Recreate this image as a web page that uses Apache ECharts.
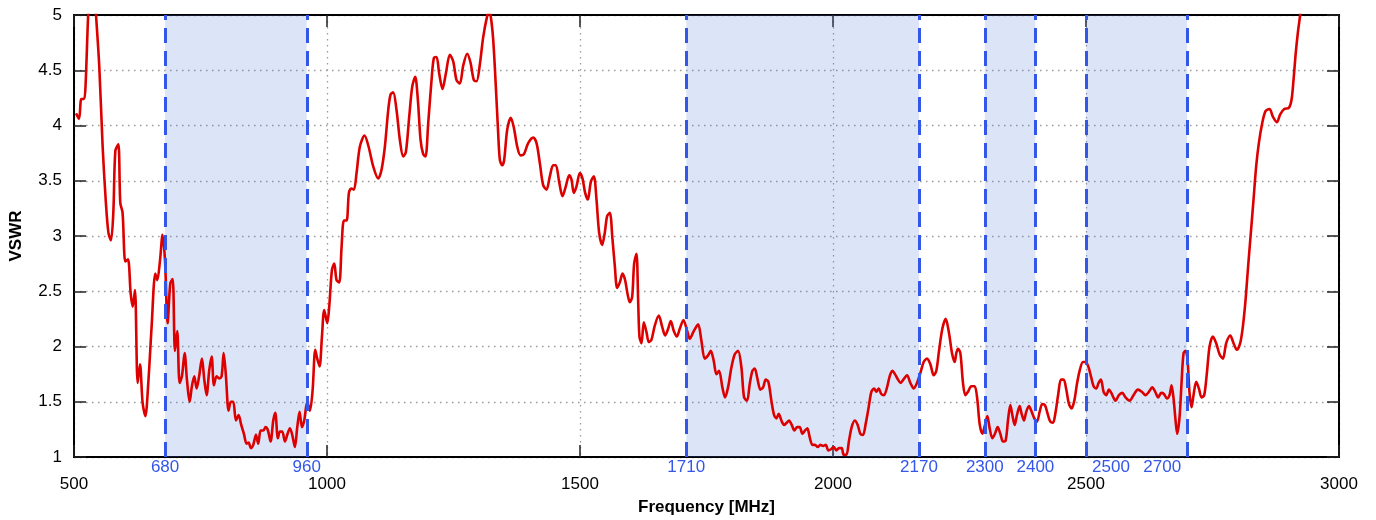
<!DOCTYPE html>
<html>
<head>
<meta charset="utf-8">
<script src="https://cdn.jsdelivr.net/npm/echarts@6.0.0/dist/echarts.min.js"></script>
<style>
html,body{margin:0;padding:0;background:#fff;}
#chart{width:1376px;height:520px;}
</style>
</head>
<body>
<div id="chart"></div>
<script>
// ---- data ----
const freqMHz = [
504,510,514.5,520,523,528,533,538,543.5,550,556.6,562.6,568,573,577.7,581.7,587.6,591.5,596,601.4,
606.7,612,616,620.5,625.8,630.4,635.6,641,646.8,653.4,660.7,664.6,670,675,679.8,685,690.3,695,699.5,704,
708.7,713.3,718.6,723.2,728.5,733,737.7,742.3,747.6,752.8,757.5,762,767.4,772,776.6,781.8,787,791.7,795.7,800.3,
805.5,810,814.7,820,825.3,830.5,835.8,841,845,849.7,854.3,859.6,864.1,868.8,874,878.6,883.3,888.5,893.8,897.7,
903,907,911.6,916.8,922.1,926.7,931.3,936.6,941.2,945.8,950.4,955,961,966.2,971.5,976.8,980.7,985.3,990,994.5,
1000.5,1004.4,1009.7,1014.3,1018.9,1024.2,1028.8,1033.4,1038.7,1043.3,1047.9,1053.1,1058.4,1065,1074.2,1082.1,1091.3,1101.2,1107.8,1114.4,
1121,1125.6,1130.8,1137.4,1144,1150.6,1155.9,1162.5,1168.4,1174.3,1179.6,1184.9,1190.1,1194.7,1200,1206.6,1211.2,1216.5,1221.7,1228.3,
1234.9,1242.8,1249.4,1256,1262.5,1269.1,1277,1283.6,1290.2,1295.5,1302,1308.7,1316.5,1320,1323.2,1328.4,1333.7,1338.3,1341.6,1346.2,
1350.2,1356.1,1363.3,1369.3,1375.9,1382.4,1389,1397.6,1407.5,1414.1,1420.6,1427.2,1433.8,1440.4,1447,1452.2,1458.8,1465.4,1472,1478.6,
1483.2,1487.8,1493.1,1499.7,1505,1510.2,1515.5,1521.4,1527.3,1532.6,1537.8,1543.8,1549,1553.6,1558.9,1564.2,1568.8,1573.4,1578.7,1584,
1589.2,1593.8,1598.4,1603.1,1607,1611.6,1614.9,1617.5,1621.5,1626.1,1631.4,1636,1641.2,1647.8,1655.7,1662.3,1668.2,1674.2,1679.4,1685.4,
1691.3,1697.2,1704.4,1711.7,1717,1724.8,1733.4,1740,1746.5,1753.1,1758.4,1764.3,1769.6,1774.8,1781.4,1786.7,1792.6,1799.2,1805.8,1812.4,
1819,1824.2,1830.2,1835.4,1840.7,1845.3,1850.6,1856.5,1861.8,1867,1872.3,1878.2,1883.5,1888.1,1892.7,1898,1903.3,1908.5,1913.1,1918.4,
1923.7,1928.9,1934.2,1939.5,1944.7,1949.3,1953.9,1959.2,1964.5,1969.8,1975,1980.3,1985.6,1990.8,1996.1,2001.4,2006.6,2011.9,2017.2,2021.1,
2026.4,2031.7,2036.9,2042.9,2048.8,2054,2059.3,2064.6,2070.5,2075.8,2081.1,2085.7,2090.3,2095.5,2100.8,2106.8,2112,2117.3,2122.5,2128.5,
2133.7,2139,2146.3,2152.9,2159.5,2166,2172.6,2179.2,2185.8,2192.4,2199,2204.2,2209.5,2216.1,2222.7,2229.3,2235.2,2240.5,2243.7,2247,
2251.7,2256.9,2261.5,2266.8,2273.4,2280,2285.2,2289.8,2295.1,2300.4,2305,2309.6,2314.9,2320.1,2325.4,2330.7,2336,2341.2,2345.8,2350.4,
2354.4,2359,2363.6,2368.9,2372.8,2377.4,2382,2387.3,2392.6,2397.8,2403.1,2408.4,2413.6,2418.9,2424.2,2429.4,2434.7,2440,2445.2,2450.5,
2455.8,2461,2466.3,2471.6,2476.9,2482.1,2487.4,2494,2499.2,2504.5,2509.8,2515,2520.3,2524.9,2529.5,2534.8,2540,2545.3,2550,2558.5,
2565,2571.6,2578.2,2586.1,2594,2602.6,2610.5,2617.7,2624.3,2630.9,2636.8,2642.7,2648.7,2654,2659.9,2665.1,2669.1,2673,2677,2680.3,
2684.9,2688.8,2692.8,2696.7,2700.7,2704.6,2708.6,2712.5,2717.8,2723.1,2728.3,2733.6,2738.9,2744.2,2750.7,2757.3,2763.9,2770.5,2777.1,2785,
2791.6,2798.1,2804.7,2810,2815.3,2820.5,2825.8,2831.1,2836.3,2841.6,2848.2,2854.8,2862.7,2869.3,2877.2,2883.8,2891.7,2901,2906.1,2910.1,
2914,2918.7,2923.3,2930
];
const vswr = [
4.11,4.06,4.24,4.24,4.38,5.0,5.35,5.35,5.0,4.53,3.81,3.33,3.03,2.96,3.21,3.77,3.83,3.30,3.21,2.77,
2.79,2.48,2.36,2.51,1.67,1.84,1.49,1.37,1.67,2.18,2.66,2.60,2.78,3.01,2.78,2.21,2.57,2.61,1.96,2.14,
1.67,1.73,1.94,1.70,1.50,1.64,1.73,1.62,1.74,1.89,1.70,1.56,1.79,1.91,1.65,1.73,1.71,1.73,1.94,1.73,
1.42,1.50,1.50,1.33,1.38,1.29,1.21,1.12,1.13,1.08,1.11,1.20,1.12,1.24,1.24,1.27,1.24,1.14,1.33,1.40,
1.17,1.23,1.23,1.14,1.21,1.26,1.20,1.09,1.27,1.41,1.27,1.33,1.50,1.42,1.60,1.97,1.89,1.82,2.09,2.33,
2.21,2.36,2.69,2.75,2.60,2.58,2.90,3.14,3.14,3.39,3.43,3.42,3.57,3.81,3.91,3.81,3.63,3.52,3.60,3.81,
4.14,4.28,4.30,4.14,3.87,3.72,3.76,4.08,4.35,4.44,4.23,3.87,3.74,3.72,4.02,4.41,4.61,4.62,4.47,4.33,
4.47,4.64,4.58,4.41,4.38,4.54,4.65,4.57,4.41,4.40,4.55,4.80,4.99,5.03,5.0,4.78,4.35,3.93,3.69,3.64,
3.69,3.96,4.07,3.98,3.81,3.73,3.74,3.84,3.89,3.84,3.66,3.46,3.42,3.54,3.64,3.64,3.49,3.36,3.45,3.55,
3.51,3.39,3.45,3.57,3.52,3.39,3.33,3.49,3.54,3.33,3.03,2.92,3.03,3.18,3.21,2.97,2.73,2.53,2.58,2.66,
2.60,2.48,2.40,2.45,2.75,2.84,2.42,2.09,2.03,2.22,2.13,2.04,2.06,2.19,2.28,2.18,2.10,2.16,2.23,2.14,
2.09,2.16,2.24,2.14,2.07,2.14,2.20,2.05,1.89,1.92,1.96,1.87,1.75,1.78,1.63,1.54,1.63,1.81,1.93,1.96,
1.81,1.54,1.51,1.66,1.78,1.80,1.71,1.61,1.63,1.70,1.68,1.51,1.38,1.35,1.39,1.33,1.29,1.31,1.33,1.29,
1.24,1.27,1.27,1.21,1.24,1.26,1.18,1.11,1.11,1.09,1.11,1.10,1.11,1.06,1.07,1.09,1.06,1.08,1.08,1.02,
1.02,1.15,1.27,1.33,1.29,1.21,1.20,1.30,1.45,1.59,1.62,1.59,1.62,1.57,1.56,1.63,1.73,1.78,1.75,1.70,
1.67,1.70,1.74,1.67,1.62,1.67,1.76,1.86,1.89,1.84,1.74,1.78,1.96,2.16,2.25,2.12,1.94,1.86,1.94,1.98,
1.94,1.67,1.56,1.59,1.64,1.64,1.52,1.30,1.21,1.29,1.37,1.26,1.17,1.21,1.27,1.21,1.14,1.15,1.33,1.47,
1.38,1.29,1.38,1.46,1.39,1.33,1.41,1.46,1.41,1.35,1.32,1.41,1.48,1.47,1.39,1.32,1.31,1.41,1.57,1.70,
1.70,1.61,1.48,1.44,1.51,1.66,1.78,1.86,1.86,1.82,1.73,1.64,1.62,1.67,1.70,1.59,1.56,1.61,1.58,1.51,
1.56,1.58,1.54,1.51,1.56,1.61,1.59,1.56,1.59,1.63,1.59,1.54,1.58,1.57,1.53,1.56,1.65,1.53,1.33,1.21,
1.36,1.67,1.94,1.96,1.88,1.58,1.45,1.56,1.68,1.62,1.54,1.56,1.76,2.00,2.09,2.03,1.93,1.89,2.03,2.10,
2.03,1.97,2.03,2.18,2.42,2.73,3.03,3.33,3.63,3.84,4.02,4.13,4.15,4.08,4.03,4.10,4.15,4.16,4.23,4.41,
4.63,4.84,5.0,5.25
];
const bands = [[680, 960], [1710, 2170], [2300, 2400], [2500, 2700]];
const bandEdges = [680, 960, 1710, 2170, 2300, 2400, 2500, 2700];
const xMin = 500, xMax = 3000, xStep = 500;
const yMin = 1, yMax = 5, yStep = 0.5;

// ---- chart ----
const FONT = '"Liberation Sans", Arial, Helvetica, sans-serif';
const FS = 17;
const BLUE = '#3457ea';
const chart = echarts.init(document.getElementById('chart'), null, {renderer: 'canvas'});
const gridDots = {show: true, lineStyle: {color: '#9a9a9a', width: 1.3, type: [1.5, 4.5]}};
const tickIn = {show: true, inside: true, length: 12, lineStyle: {color: '#222', width: 1.5}};
const plain = v => String(v);
const option = {
  animation: false,
  backgroundColor: '#fff',
  textStyle: {fontFamily: FONT},
  grid: {left: 74, right: 37, top: 15, bottom: 63, containLabel: false, outerBoundsMode: 'none',
         show: true, borderColor: '#000', borderWidth: 2, backgroundColor: 'transparent'},
  xAxis: [
    {
      type: 'value', min: xMin, max: xMax, interval: xStep, position: 'bottom',
      axisLine: {show: true, lineStyle: {color: '#000', width: 2}},
      axisTick: tickIn,
      axisLabel: {color: '#000', fontSize: FS, margin: 19, fontFamily: FONT, formatter: plain},
      splitLine: gridDots,
      name: 'Frequency [MHz]', nameLocation: 'middle', nameGap: 42,
      nameTextStyle: {color: '#000', fontWeight: 'bold', fontSize: FS, fontFamily: FONT}
    },
    {
      type: 'value', min: xMin, max: xMax, position: 'bottom',
      axisLine: {show: false}, axisTick: {show: false}, splitLine: {show: false},
      axisLabel: {
        customValues: bandEdges, color: BLUE, fontSize: FS, margin: 2, fontFamily: FONT,
        formatter: function (v) {
          if (v === 2500) return '{r|' + v + '}';
          if (v === 2700) return '{l|' + v + '}';
          return String(v);
        },
        rich: {
          r: {color: BLUE, fontSize: FS, fontFamily: FONT, padding: [0, 0, 0, 50]},
          l: {color: BLUE, fontSize: FS, fontFamily: FONT, padding: [0, 50, 0, 0]}
        }
      }
    },
    {
      type: 'value', min: xMin, max: xMax, interval: xStep, position: 'top',
      axisLine: {show: true, lineStyle: {color: '#000', width: 2}},
      axisTick: tickIn, axisLabel: {show: false}, splitLine: {show: false}
    }
  ],
  yAxis: [
    {
      type: 'value', min: yMin, max: yMax, interval: yStep, position: 'left',
      axisLine: {show: true, lineStyle: {color: '#000', width: 2}},
      axisTick: tickIn,
      axisLabel: {color: '#000', fontSize: FS, margin: 12, fontFamily: FONT, formatter: plain},
      splitLine: gridDots,
      name: 'VSWR', nameLocation: 'middle', nameGap: 49,
      nameTextStyle: {color: '#000', fontWeight: 'bold', fontSize: FS, fontFamily: FONT}
    },
    {
      type: 'value', min: yMin, max: yMax, interval: yStep, position: 'right',
      axisLine: {show: true, lineStyle: {color: '#000', width: 2}},
      axisTick: tickIn, axisLabel: {show: false}, splitLine: {show: false}
    }
  ],
  series: [
    {
      name: 'bands', type: 'line', xAxisIndex: 0, yAxisIndex: 0, data: [], z: 1, silent: true,
      markArea: {
        silent: true,
        itemStyle: {color: 'rgba(80,125,215,0.2)'},
        data: bands.map(b => [{xAxis: b[0]}, {xAxis: b[1]}])
      },
      markLine: {
        silent: true, symbol: ['none', 'none'], label: {show: false},
        lineStyle: {color: BLUE, type: [15, 8], width: 3},
        data: bandEdges.map(v => ({xAxis: v}))
      }
    },
    {
      name: 'VSWR', type: 'line', xAxisIndex: 0, yAxisIndex: 0, z: 3, clip: true,
      showSymbol: false, smooth: 0.3,
      lineStyle: {color: '#dd0000', width: 2.6},
      data: freqMHz.map((f, i) => [f, vswr[i]])
    }
  ]
};
chart.setOption(option);
</script>
</body>
</html>
